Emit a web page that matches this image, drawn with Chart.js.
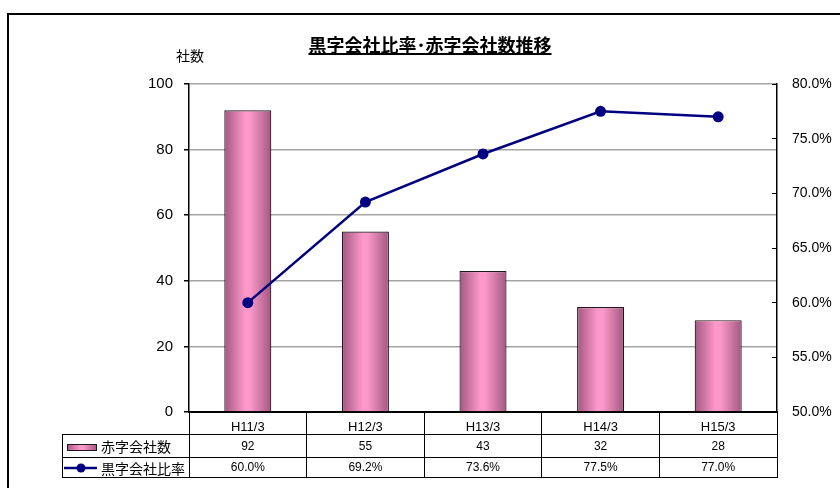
<!DOCTYPE html>
<html>
<head>
<meta charset="utf-8">
<script src="https://cdn.jsdelivr.net/npm/chart.js@4.4.1/dist/chart.umd.min.js"></script>
<style>
  html, body { margin: 0; padding: 0; background: #fff; }
  canvas { display: block; }
</style>
</head>
<body>
<canvas id="c" width="840" height="488"></canvas>
<script>
// ---- data ----
const categories = ['H11/3', 'H12/3', 'H13/3', 'H14/3', 'H15/3'];
const deficitCompanies = [92, 55, 43, 32, 28];          // 赤字会社数 (社)
const profitRatio = [60.0, 69.2, 73.6, 77.5, 77.0];     // 黒字会社比率 (%)
const countTicks = [0, 20, 40, 60, 80, 100];
const ratioTicks = [50, 55, 60, 65, 70, 75, 80];
const seriesNames = ['赤字会社数', '黒字会社比率'];
const chartTitle = '黒字会社比率･赤字会社数推移';
const countAxisTitle = '社数';

// ---- styles ----
const LATIN = "'Liberation Sans', Arial, 'Noto Sans CJK JP', sans-serif";
const CJK = "'Noto Sans CJK JP', 'Liberation Sans', sans-serif";
const NAVY = '#000080';
const BAR_EDGE = '#24161d';
const BAR_WIDTH_RATIO = 0.4;

function pinkGradient(c, x0, x1) {
  const g = c.createLinearGradient(x0, 0, x1, 0);
  g.addColorStop(0, '#a25880');
  g.addColorStop(0.45, '#ff99cc');
  g.addColorStop(0.55, '#fb97ca');
  g.addColorStop(1, '#a25880');
  return g;
}

function barFill(ctx) {
  const chart = ctx.chart;
  const xs = chart.scales && chart.scales.x;
  if (!xs || ctx.dataIndex === undefined) return '#ff99cc';
  const cx = xs.getPixelForValue(ctx.dataIndex);
  const w = (xs.width / categories.length) * BAR_WIDTH_RATIO;
  if (!isFinite(cx) || !isFinite(w) || w <= 0) return '#ff99cc';
  return pinkGradient(chart.ctx, cx - w / 2, cx + w / 2);
}

function hline(c, x0, x1, y) {
  const yy = Math.round(y) + 0.5;
  c.beginPath(); c.moveTo(x0, yy); c.lineTo(x1, yy); c.stroke();
}
function vline(c, x, y0, y1) {
  const xx = Math.round(x) + 0.5;
  c.beginPath(); c.moveTo(xx, y0); c.lineTo(xx, y1); c.stroke();
}

// frame, title, axis caption and the data table under the plot
const decor = {
  id: 'decor',
  beforeDraw(chart) {
    const c = chart.ctx;
    c.save();
    c.fillStyle = '#fff';
    c.fillRect(0, 0, chart.width, chart.height);
    c.strokeStyle = '#000';
    c.lineWidth = 2;
    c.strokeRect(8, 14, chart.width + 20, chart.height + 20);
    c.restore();
  },
  afterDraw(chart) {
    const c = chart.ctx;
    const area = chart.chartArea;
    const xs = chart.scales.x;
    const y1 = chart.scales.y1;
    c.save();

    // title with underline
    c.font = "bold 18px " + CJK;
    c.fillStyle = '#000';
    c.textAlign = 'center';
    c.textBaseline = 'middle';
    const tx = 430;
    c.fillText(chartTitle, tx, 45);
    const tw = c.measureText(chartTitle).width;
    c.fillRect(tx - tw / 2, 53, tw, 2);

    // left axis caption
    c.font = "14px " + CJK;
    c.textAlign = 'center';
    c.fillText(countAxisTitle, 190, 56);

    // inner tick marks on the right axis
    c.strokeStyle = '#000';
    c.lineWidth = 1;
    ratioTicks.forEach(v => {
      hline(c, area.right - 5, area.right, y1.getPixelForValue(v) - 0.5);
    });

    // data table
    const rows = [area.bottom, area.bottom + 22, area.bottom + 45, area.bottom + 65];
    const tableLeft = 62;
    const step = xs.width / categories.length;
    c.strokeStyle = '#000';
    c.lineWidth = 1;
    for (let i = 1; i < rows.length; i++) hline(c, tableLeft, area.right + 1, rows[i]);
    vline(c, tableLeft, rows[1], rows[3]);
    for (let i = 0; i <= categories.length; i++) {
      const bx = i < categories.length ? xs.getPixelForValue(i) - step / 2 : xs.getPixelForValue(i - 1) + step / 2;
      vline(c, bx - 0.5, rows[0], rows[3]);
    }

    // table values
    c.fillStyle = '#000';
    c.textAlign = 'center';
    c.textBaseline = 'middle';
    c.font = "12px " + LATIN;
    const r1 = (rows[1] + rows[2]) / 2 + 1;
    const r2 = (rows[2] + rows[3]) / 2 + 1;
    categories.forEach((_, i) => {
      const cx = xs.getPixelForValue(i);
      c.fillText(String(deficitCompanies[i]), cx, r1);
      c.fillText(profitRatio[i].toFixed(1) + '%', cx, r2);
    });

    // legend keys in the table
    c.fillStyle = pinkGradient(c, 67, 97);
    c.fillRect(67, 444, 30, 7);
    c.strokeStyle = BAR_EDGE;
    c.lineWidth = 1;
    c.strokeRect(67.5, 444.5, 29, 6);

    c.strokeStyle = NAVY;
    c.lineWidth = 2.5;
    c.beginPath(); c.moveTo(64, r2); c.lineTo(97, r2); c.stroke();
    c.fillStyle = NAVY;
    c.beginPath(); c.arc(81, r2, 4.5, 0, Math.PI * 2); c.fill();

    c.fillStyle = '#000';
    c.textAlign = 'left';
    c.font = "14px " + CJK;
    c.fillText(seriesNames[0], 101, r1 + 0.5);
    c.fillText(seriesNames[1], 101, r2 + 0.5);

    c.restore();
  }
};

new Chart(document.getElementById('c'), {
  type: 'bar',
  data: {
    labels: categories,
    datasets: [
      {
        type: 'line',
        label: seriesNames[1],
        data: profitRatio,
        yAxisID: 'y1',
        borderColor: NAVY,
        backgroundColor: NAVY,
        borderWidth: 2.5,
        pointRadius: 5.5,
        pointBackgroundColor: NAVY,
        pointBorderWidth: 0,
        tension: 0,
        order: 0
      },
      {
        type: 'bar',
        label: seriesNames[0],
        data: deficitCompanies,
        yAxisID: 'y',
        backgroundColor: barFill,
        borderColor: BAR_EDGE,
        borderWidth: 1.2,
        barPercentage: BAR_WIDTH_RATIO,
        categoryPercentage: 1,
        order: 1
      }
    ]
  },
  options: {
    responsive: false,
    animation: false,
    devicePixelRatio: 1,
    layout: { padding: { top: 84, left: 0, right: 0, bottom: 0 } },
    plugins: {
      legend: { display: false },
      title: { display: false },
      tooltip: { enabled: false }
    },
    scales: {
      x: {
        type: 'category',
        offset: true,
        grid: { display: false, drawTicks: false },
        border: { display: true, color: '#000', width: 2 },
        ticks: { font: { family: LATIN, size: 13 }, color: '#000', padding: 8, maxRotation: 0, autoSkip: false },
        afterFit(s) { s.height = 76; }
      },
      y: {
        position: 'left',
        min: 0,
        max: 100,
        afterBuildTicks(s) { s.ticks = countTicks.map(v => ({ value: v })); },
        grid: {
          color: ctx => (ctx.tick && ctx.tick.value === 0) ? 'rgba(0,0,0,0)' : '#a4a4a4',
          lineWidth: 1.5,
          tickLength: 5,
          tickColor: '#000'
        },
        border: { display: true, color: '#000', width: 1.5 },
        ticks: { font: { family: LATIN, size: 15 }, color: '#000', padding: 11 },
        afterFit(s) { s.width = 189; }
      },
      y1: {
        position: 'right',
        min: 50,
        max: 80,
        afterBuildTicks(s) { s.ticks = ratioTicks.map(v => ({ value: v })); },
        grid: { drawOnChartArea: false, drawTicks: false },
        border: { display: true, color: '#000', width: 1.5 },
        ticks: {
          font: { family: LATIN, size: 14 },
          color: '#000',
          padding: 15,
          callback: v => Number(v).toFixed(1) + '%'
        },
        afterFit(s) { s.width = 63; }
      }
    }
  },
  plugins: [decor]
});
</script>
</body>
</html>
